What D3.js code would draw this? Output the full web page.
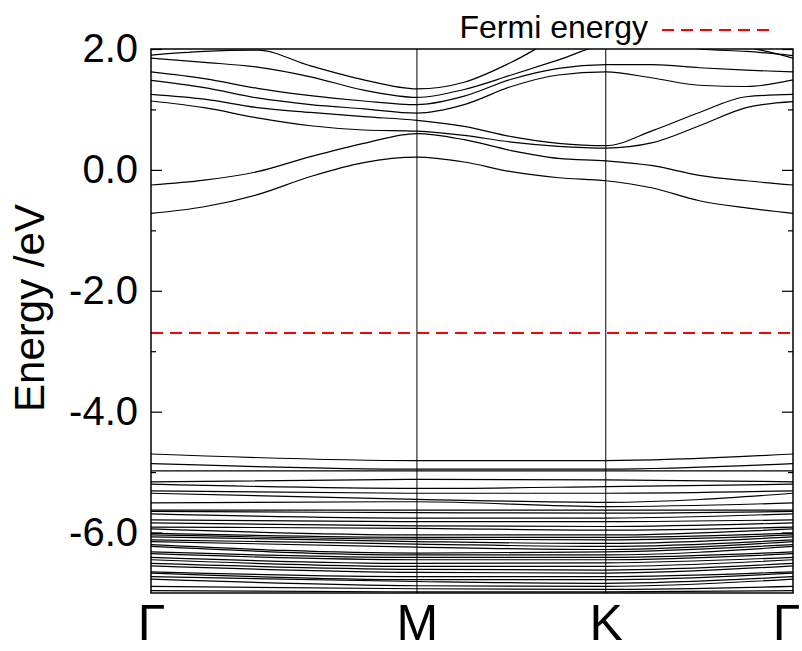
<!DOCTYPE html>
<html>
<head>
<meta charset="utf-8">
<script src="https://cdn.jsdelivr.net/npm/d3@7"></script>
<style>
  html, body { margin: 0; padding: 0; background: #fff; }
  svg { display: block; font-family: "Liberation Sans", Arial, sans-serif; }
</style>
</head>
<body>
<svg id="chart" width="802" height="651"></svg>
<script>
// ---- data ----
const kTickLabels = ["Γ", "M", "K", "Γ"];
const kTickPos = [0, 1.0, 1.71, 2.414];
const yTickValues = [2, 0, -2, -4, -6];
const yMinorTicks = [1, -1, -3, -5];
const fermiEnergy = -2.70;
const legendLabel = "Fermi energy";
const yAxisTitle = "Energy /eV";

// k sample positions for the conduction bands (Γ→M, M→K, K→Γ)
const kSample = [0, 0.2, 0.4, 0.6, 0.8, 1.0, 1.1775, 1.355, 1.5325, 1.71, 1.886, 2.062, 2.238, 2.414];
const band1 = [1.90, 1.96, 1.98, 1.72, 1.49, 1.34, 1.45, 1.78, 2.20, 2.50, 2.25, 2.00, 1.96, 1.89];
const band2 = [1.85, 1.78, 1.70, 1.54, 1.32, 1.20, 1.33, 1.57, 1.82, 2.08, 2.14, 2.12, 2.03, 1.85];
const band3 = [1.62, 1.51, 1.35, 1.23, 1.14, 1.08, 1.22, 1.50, 1.68, 1.74, 1.74, 1.69, 1.65, 1.62];
const band4 = [1.48, 1.36, 1.19, 1.08, 1.01, 0.94, 1.08, 1.38, 1.57, 1.62, 1.52, 1.40, 1.38, 1.49];
const band5 = [1.25, 1.17, 1.03, 0.95, 0.88, 0.82, 0.72, 0.55, 0.44, 0.40, 0.65, 0.95, 1.21, 1.25];
const band6 = [1.14, 1.03, 0.86, 0.73, 0.66, 0.64, 0.57, 0.46, 0.39, 0.36, 0.45, 0.73, 1.03, 1.13];
const band7 = [-0.25, -0.17, -0.03, 0.22, 0.44, 0.60, 0.50, 0.32, 0.19, 0.15, 0.07, -0.09, -0.18, -0.25];
const band8 = [-0.72, -0.61, -0.41, -0.11, 0.12, 0.21, 0.13, -0.03, -0.13, -0.18, -0.30, -0.51, -0.63, -0.72];
const conductionBands = [band1, band2, band3, band4, band5, band6, band7, band8];

// valence bands sampled at the high-symmetry points Γ, M, K, Γ
const valenceGamma = [-4.70, -4.86, -4.98, -5.16, -5.20, -5.31, -5.35, -5.51, -5.63, -5.65, -5.69, -5.79, -5.84, -5.91, -5.94, -6.01, -6.04, -6.07, -6.12, -6.15, -6.20, -6.23, -6.32, -6.35, -6.41, -6.45, -6.51, -6.55, -6.65, -6.67, -6.73, -6.77, -6.89, -6.96];
const valenceM = [-4.81, -4.95, -4.98, -5.12, -5.27, -5.35, -5.45, -5.49, -5.63, -5.67, -5.76, -5.82, -5.89, -5.93, -6.04, -6.08, -6.11, -6.15, -6.19, -6.24, -6.34, -6.37, -6.41, -6.45, -6.51, -6.56, -6.61, -6.66, -6.73, -6.78, -6.81, -6.88, -6.93, -6.98];
const valenceK = [-4.81, -4.95, -4.98, -5.13, -5.24, -5.35, -5.50, -5.57, -5.63, -5.68, -5.76, -5.82, -5.90, -5.96, -6.04, -6.08, -6.12, -6.18, -6.23, -6.28, -6.32, -6.37, -6.41, -6.45, -6.50, -6.56, -6.62, -6.67, -6.73, -6.78, -6.84, -6.89, -6.94, -6.98];
const valenceGamma2 = [-4.70, -4.86, -4.98, -5.16, -5.20, -5.31, -5.35, -5.51, -5.63, -5.65, -5.69, -5.79, -5.84, -5.91, -5.94, -6.01, -6.04, -6.07, -6.12, -6.15, -6.20, -6.23, -6.32, -6.35, -6.41, -6.45, -6.51, -6.55, -6.65, -6.67, -6.73, -6.77, -6.89, -6.96];

// ---- layout ----
const W = 802, H = 651;
const m = { left: 151, right: 9, top: 49, bottom: 58 };
const pw = W - m.left - m.right, ph = H - m.top - m.bottom;

const svg = d3.select("#chart");
const x = d3.scaleLinear().domain([kTickPos[0], kTickPos[kTickPos.length - 1]]).range([m.left, m.left + pw]);
const y = d3.scaleLinear().domain([-7, 2]).range([m.top + ph, m.top]);

svg.append("defs").append("clipPath").attr("id", "clip")
  .append("rect").attr("x", m.left).attr("y", m.top).attr("width", pw).attr("height", ph);

const plot = svg.append("g").attr("clip-path", "url(#clip)");

// vertical lines at high-symmetry points
plot.selectAll("line.hs").data(kTickPos.slice(1, -1)).enter().append("line")
  .attr("x1", d => x(d)).attr("x2", d => x(d))
  .attr("y1", m.top).attr("y2", m.top + ph)
  .attr("stroke", "#000").attr("stroke-width", 1);

const line = d3.line().x(d => x(d[0])).y(d => y(d[1])).curve(d3.curveMonotoneX);

conductionBands.forEach(b => {
  plot.append("path").datum(b.map((v, i) => [kSample[i], v]))
    .attr("d", line).attr("fill", "none").attr("stroke", "#000").attr("stroke-width", 1.2);
});

valenceGamma.forEach((v, i) => {
  const pts = [[kTickPos[0], v], [kTickPos[1], valenceM[i]], [kTickPos[2], valenceK[i]], [kTickPos[3], valenceGamma2[i]]];
  plot.append("path").datum(pts)
    .attr("d", line).attr("fill", "none").attr("stroke", "#000").attr("stroke-width", 1.2);
});

// Fermi line
plot.append("line")
  .attr("x1", m.left).attr("x2", m.left + pw)
  .attr("y1", y(fermiEnergy)).attr("y2", y(fermiEnergy))
  .attr("stroke", "#ff0000").attr("stroke-width", 2).attr("stroke-dasharray", "12,7");

// frame
svg.append("rect").attr("x", m.left).attr("y", m.top).attr("width", pw).attr("height", ph)
  .attr("fill", "none").attr("stroke", "#000").attr("stroke-width", 1.5);

// y ticks (inward, both sides)
const axL = d3.axisLeft(y).tickValues(yTickValues).tickSize(-11).tickFormat(d3.format(".1f"));
const gL = svg.append("g").attr("transform", `translate(${m.left},0)`).call(axL);
gL.select(".domain").remove();
gL.selectAll("text").attr("font-size", 40).attr("x", -13).attr("fill", "#000")
  .text(d => d3.format(".1f")(d).replace("−", "-"));
gL.selectAll("line").attr("stroke", "#000").attr("stroke-width", 1.2);

const axLm = d3.axisLeft(y).tickValues(yMinorTicks).tickSize(-5).tickFormat("");
const gLm = svg.append("g").attr("transform", `translate(${m.left},0)`).call(axLm);
gLm.select(".domain").remove();
gLm.selectAll("line").attr("stroke", "#000").attr("stroke-width", 1.2);

const axR = d3.axisRight(y).tickValues(yTickValues).tickSize(-11).tickFormat("");
const gR = svg.append("g").attr("transform", `translate(${m.left + pw},0)`).call(axR);
gR.select(".domain").remove();
gR.selectAll("line").attr("stroke", "#000").attr("stroke-width", 1.2);
const axRm = d3.axisRight(y).tickValues(yMinorTicks).tickSize(-5).tickFormat("");
const gRm = svg.append("g").attr("transform", `translate(${m.left + pw},0)`).call(axRm);
gRm.select(".domain").remove();
gRm.selectAll("line").attr("stroke", "#000").attr("stroke-width", 1.2);

// x tick labels
const axB = d3.axisBottom(x).tickValues(kTickPos).tickSize(0).tickFormat((d, i) => kTickLabels[i]);
const gB = svg.append("g").attr("transform", `translate(0,${m.top + ph})`).call(axB);
gB.select(".domain").remove();
gB.selectAll("text").attr("font-size", 50).attr("fill", "#000").attr("dy", null).attr("y", 47)
  .attr("dx", (d, i) => i === kTickPos.length - 1 ? -7 : 0);

// y title
svg.append("text").attr("transform", `translate(44,${308}) rotate(-90)`)
  .attr("text-anchor", "middle").attr("font-size", 42).attr("fill", "#000").text(yAxisTitle);

// legend
svg.append("text").attr("x", 648).attr("y", 38).attr("text-anchor", "end")
  .attr("font-size", 32).attr("fill", "#000").text(legendLabel);
svg.append("line").attr("x1", 662).attr("x2", 773).attr("y1", 30).attr("y2", 30)
  .attr("stroke", "#ff0000").attr("stroke-width", 2).attr("stroke-dasharray", "12,7");
</script>
</body>
</html>
